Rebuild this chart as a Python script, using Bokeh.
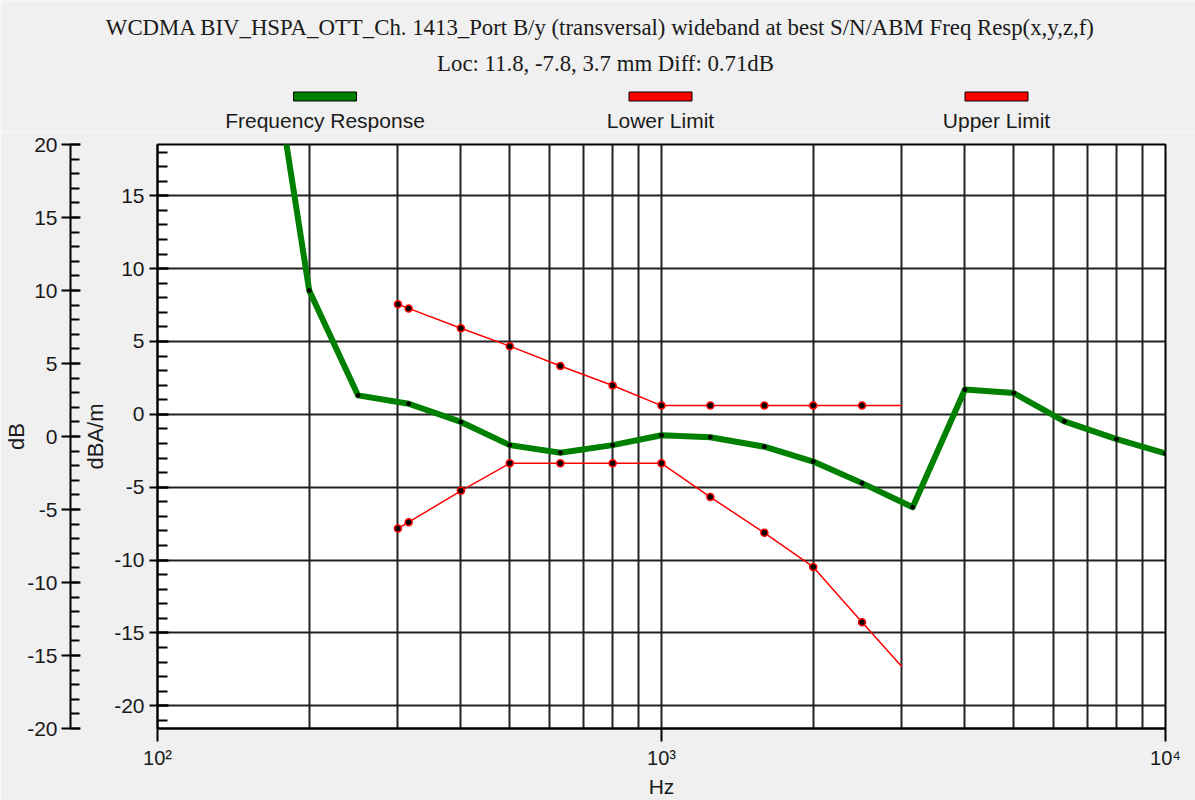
from bokeh.plotting import figure
from bokeh.layouts import column
from bokeh.models import Range1d, LinearAxis, SingleIntervalTicker, FixedTicker
from bokeh.core.properties import value
from bokeh.embed import file_html
from bokeh.resources import INLINE

# ---------------- data ----------------
fr_freq = [160, 200, 250, 315, 400, 500, 630, 800, 1000, 1250, 1600, 2000,
           2500, 3150, 4000, 5000, 6300, 8000, 10000]
fr_db = [30.0, 8.5, 1.3, 0.73, -0.52, -2.11, -2.63, -2.11, -1.43, -1.57, -2.22,
         -3.24, -4.72, -6.37, 1.70, 1.46, -0.48, -1.70, -2.68]

lim_freq = [300, 315, 400, 500, 630, 800, 1000, 1250, 1600, 2000, 2500, 3000]
upper_db = [7.55, 7.27, 5.91, 4.68, 3.32, 1.98, 0.6, 0.6, 0.6, 0.6, 0.6, 0.6]
lower_db = [-7.84, -7.40, -5.25, -3.36, -3.36, -3.36, -3.36, -5.68, -8.13,
            -10.47, -14.27, -17.33]

x_grid_freqs = [100, 200, 300, 400, 500, 600, 700, 800, 900,
                1000, 2000, 3000, 4000, 5000, 6000, 7000, 8000, 9000, 10000]
x_major_ticks = [100, 1000, 10000]
x_tick_labels = {100: "10\u00b2", 1000: "10\u00b3", 10000: "10\u2074"}
y_ticks = [-20, -15, -10, -5, 0, 5, 10, 15, 20]
y_tick_labels = {v: str(v) for v in y_ticks}

title_lines = ["WCDMA BIV_HSPA_OTT_Ch. 1413_Port B/y (transversal) wideband at best S/N/ABM Freq Resp(x,y,z,f)",
               "Loc: 11.8, -7.8, 3.7 mm Diff: 0.71dB"]
legend_names = ["Frequency Response", "Lower Limit", "Upper Limit"]
legend_colors = ["#008000", "#ff0000", "#ff0000"]

# ---------------- style ----------------
W = 1195
HEAD_H = 132
MAIN_H = 800 - HEAD_H
BG = "#f0f0f0"
INK = "#1a1a1a"
SANS = "Liberation Sans"
SERIF = "Liberation Serif"

# ---------------- header (title + legend) ----------------
head = figure(width=W, height=HEAD_H, x_range=Range1d(0, W), y_range=Range1d(HEAD_H, 0),
              output_backend="svg", toolbar_location=None,
              x_axis_location=None, y_axis_location=None,
              min_border_left=0, min_border_right=0, min_border_top=0, min_border_bottom=0)
head.frame_align = False
head.border_fill_color = BG
head.background_fill_color = BG
head.outline_line_color = None
head.grid.visible = False

head.text(x=[600, 605], y=[27, 63], text=title_lines,
          text_align="center", text_baseline="middle",
          text_font=value(SERIF), text_font_size="22.8px", text_color=INK)

legend_x = [324.5, 660, 996]
head.rect(x=legend_x, y=[96] * 3, width=63, height=9,
          fill_color=legend_colors, line_color="black", line_width=1)
head.text(x=legend_x, y=[119.5] * 3, text=legend_names,
          text_align="center", text_baseline="middle",
          text_font=value(SANS), text_font_size="21px", text_color=INK)

# ---------------- main chart ----------------
p = figure(width=W, height=MAIN_H, x_axis_type="log",
           x_range=Range1d(100, 10000), y_range=Range1d(-21.56, 18.52),
           output_backend="svg", toolbar_location=None,
           min_border_left=157, min_border_right=30,
           min_border_top=144 - HEAD_H, min_border_bottom=68)
p.frame_align = False
p.border_fill_color = BG
p.background_fill_color = "white"
p.outline_line_color = "black"
p.outline_line_width = 2
p.extra_y_ranges = {"outer": Range1d(-20, 20)}

# x axis
xa = p.xaxis[0]
xa.ticker = FixedTicker(ticks=x_major_ticks, minor_ticks=[])
xa.major_label_overrides = x_tick_labels
xa.major_tick_in = 0
xa.major_tick_out = 13
xa.minor_tick_in = 0
xa.minor_tick_out = 0
xa.major_label_standoff = 5
xa.axis_line_color = "black"
xa.axis_line_width = 2
xa.major_tick_line_width = 2
xa.major_label_text_font = SANS
xa.major_label_text_font_size = "20px"
xa.major_label_text_color = INK
xa.axis_label = "Hz"
xa.axis_label_text_font = SANS
xa.axis_label_text_font_size = "21px"
xa.axis_label_text_font_style = "normal"
xa.axis_label_text_color = INK
xa.axis_label_standoff = 3


def style_y(ax, tick_in, tick_out, minor_in, label, label_standoff, tick_standoff):
    ax.major_label_overrides = y_tick_labels
    ax.major_tick_in = tick_in
    ax.major_tick_out = tick_out
    ax.minor_tick_in = minor_in
    ax.minor_tick_out = 0
    ax.major_label_standoff = tick_standoff
    ax.axis_line_color = "black"
    ax.axis_line_width = 2
    ax.major_tick_line_width = 2
    ax.minor_tick_line_width = 2
    ax.major_label_text_font = SANS
    ax.major_label_text_font_size = "21px"
    ax.major_label_text_color = INK
    ax.axis_label = label
    ax.axis_label_text_font = SANS
    ax.axis_label_text_font_size = "22px"
    ax.axis_label_text_font_style = "normal"
    ax.axis_label_text_color = INK
    ax.axis_label_standoff = label_standoff


# inner y axis (dBA/m) - data axis
ya = p.yaxis[0]
ya.ticker = SingleIntervalTicker(interval=5, num_minor_ticks=5)
style_y(ya, 11, 8, 10, "dBA/m", 3, 5)

# spacer between the two vertical axes: one invisible tick, no label
spacer = LinearAxis(ticker=FixedTicker(ticks=[0], minor_ticks=[]))
spacer.major_label_overrides = {0: ""}
spacer.axis_line_color = None
spacer.major_tick_line_color = BG
spacer.major_tick_line_width = 1
spacer.major_tick_out = 10
spacer.major_tick_in = 0
spacer.minor_tick_out = 0
spacer.minor_tick_in = 0
spacer.major_label_standoff = 0
spacer.major_label_text_font_size = "1px"
spacer.axis_label = None
p.add_layout(spacer, "left")

# outer y axis (dB)
yo = LinearAxis(y_range_name="outer",
                ticker=SingleIntervalTicker(interval=5, num_minor_ticks=5))
style_y(yo, 10, 9, 9, "dB", -5, 4)
p.add_layout(yo, "left")

# grids
p.xgrid.ticker = FixedTicker(ticks=x_grid_freqs, minor_ticks=[])
for g in (p.xgrid[0], p.ygrid[0]):
    g.grid_line_color = "#222222"
    g.grid_line_width = 2

# data glyphs
p.line(lim_freq, upper_db, line_width=1.5, color="#ff0000")
p.line(lim_freq, lower_db, line_width=1.5, color="#ff0000")
p.scatter(lim_freq[:-1], upper_db[:-1], size=7, fill_color="black",
          line_color="#ff0000", line_width=1.5)
p.scatter(lim_freq[:-1], lower_db[:-1], size=7, fill_color="black",
          line_color="#ff0000", line_width=1.5)
p.line(fr_freq, fr_db, line_width=6, color="#008000", line_join="round")
p.scatter(fr_freq, fr_db, size=4, fill_color="black", line_color="black")

layout = column(head, p, spacing=0)
open("out.html", "w").write(file_html(layout, INLINE))
